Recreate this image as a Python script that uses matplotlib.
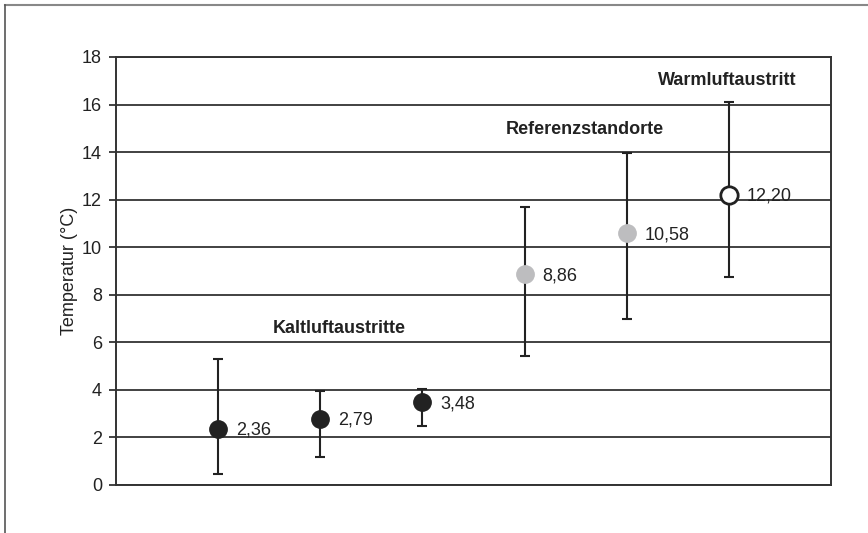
import matplotlib
matplotlib.use("Agg")
from matplotlib import pyplot as plt
from matplotlib.lines import Line2D

plt.rcParams['font.family'] = ['Liberation Sans', 'DejaVu Sans']

# positions of the six sites and their mean temperatures
sites = [1, 2, 3, 4, 5, 6]
means = [2.36, 2.79, 3.48, 8.86, 10.58, 12.20]
upper = [5.30, 3.97, 4.04, 11.70, 13.97, 16.10]
lower = [0.45, 1.18, 2.48, 5.42, 6.99, 8.76]
labels = ["2,36", "2,79", "3,48", "8,86", "10,58", "12,20"]
groups = ["Kaltluftaustritte", "Referenzstandorte", "Warmluftaustritt"]
group_x = [2.19, 4.59, 5.98]
group_y = [6.56, 14.97, 17.03]
yticks = [0, 2, 4, 6, 8, 10, 12, 14, 16, 18]

dark = '#222222'
fs = 13
fig = plt.figure(figsize=(8.68, 5.33), dpi=100)
ax = fig.add_axes([0.1336, 0.0901, 0.9574 - 0.1336, 0.8931 - 0.0901])

err_lo = [m - l for m, l in zip(means, lower)]
err_hi = [u - m for m, u in zip(means, upper)]
ax.errorbar(sites, means, yerr=[err_lo, err_hi], fmt='none', ecolor=dark,
            elinewidth=1.5, capsize=3.5, capthick=1.5, zorder=3)

face = [dark, dark, dark, '#bdbdbf', '#bdbdbf', 'white']
edge = [dark, dark, dark, '#bdbdbf', '#bdbdbf', dark]
for i in range(len(sites)):
    ax.plot(sites[i], means[i], 'o', ms=12.5, mfc=face[i], mec=edge[i],
            mew=2 if i == 5 else 1, zorder=4)
    ax.annotate(labels[i], (sites[i], means[i]), xytext=(13, -1),
                textcoords='offset points', va='center', ha='left',
                fontsize=fs, color=dark)

for g, gx, gy in zip(groups, group_x, group_y):
    ax.text(gx, gy, g, ha='center', va='center', fontsize=fs,
            fontweight='bold', color=dark)

ax.set_xlim(0, 7)
ax.set_ylim(0, 18)
ax.set_yticks(yticks)
ax.set_xticks([])
ax.yaxis.grid(True, color='#333333', linewidth=1.3)
ax.set_axisbelow(True)
ax.tick_params(axis='y', length=5, width=1.3, color='#333333',
               labelsize=fs, labelcolor=dark, pad=5)
for s in ['left', 'right', 'bottom', 'top']:
    ax.spines[s].set_color('#333333')
    ax.spines[s].set_linewidth(1.4)
ax.set_ylabel("Temperatur (°C)", fontsize=fs, color=dark, labelpad=3)

# figure border (top and left)
fig.add_artist(Line2D([5 / 868, 1], [1 - 5 / 533, 1 - 5 / 533],
                      transform=fig.transFigure, color='#888888', lw=1.5))
fig.add_artist(Line2D([5 / 868, 5 / 868], [0, 1 - 5 / 533],
                      transform=fig.transFigure, color='#555555', lw=1.2))

fig.savefig("out.png", dpi=100)
